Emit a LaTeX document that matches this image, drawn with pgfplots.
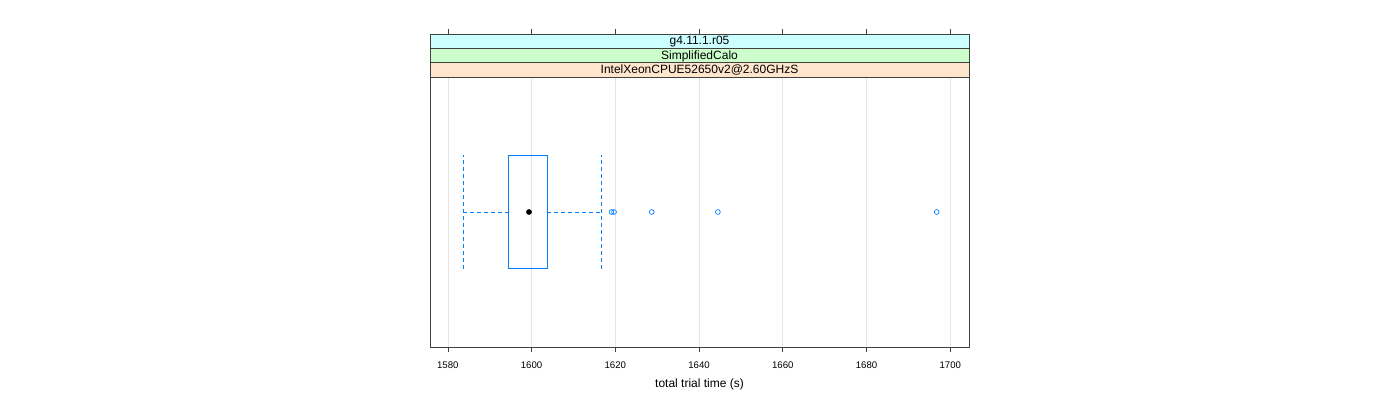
\documentclass[border=0pt]{standalone}
\usepackage{pgfplots}
\pgfplotsset{compat=1.18}
\usepackage{fontspec}
\setmainfont{Liberation Sans}
\definecolor{bwblue}{HTML}{0080FF}
\definecolor{stripcyan}{HTML}{CCFFFF}
\definecolor{stripgreen}{HTML}{CCFFCC}
\definecolor{strippeach}{HTML}{FFE5CC}
\begin{document}
\begin{tikzpicture}[x=1pt,y=1pt]
\useasboundingbox (0,0) rectangle (1400,400);
\begin{axis}[
  at={(430pt,53pt)}, anchor=south west,
  scale only axis, width=539pt, height=270pt,
  xmin=1575.75, xmax=1704.47, ymin=0, ymax=1,
  xtick={1580,1600,1620,1640,1660,1680,1700},
  ytick=\empty,
  xmajorgrids, grid style={color=black!10, line width=0.6pt},
  tick align=outside, major tick length=5pt,
  xtick pos=left,
  xticklabel style={font=\fontsize{9.6}{11}\selectfont, yshift=-6pt},
  axis line style={black!75, line width=0.6pt},
  tick style={black!75, line width=0.6pt},
  xlabel={total trial time (s)},
  xlabel style={font=\fontsize{12}{14}\selectfont, yshift=-4pt},
  /pgf/number format/assume math mode=true,
  /pgf/number format/set thousands separator={},
  clip=false,
]
\addplot[bwblue, line width=0.6pt] coordinates {(1594.45,0.29) (1603.77,0.29) (1603.77,0.71) (1594.45,0.71) (1594.45,0.29)};
\addplot[bwblue, line width=0.6pt, dash pattern=on 4pt off 3pt] coordinates {(1583.7,0.5) (1594.45,0.5)};
\addplot[bwblue, line width=0.6pt, dash pattern=on 4pt off 3pt] coordinates {(1603.77,0.5) (1616.75,0.5)};
\addplot[bwblue, line width=0.6pt, dash pattern=on 4pt off 3pt] coordinates {(1583.7,0.29) (1583.7,0.71)};
\addplot[bwblue, line width=0.6pt, dash pattern=on 4pt off 3pt] coordinates {(1616.75,0.29) (1616.75,0.71)};
\addplot[only marks, mark=*, mark size=2.6pt, black] coordinates {(1599.4,0.5)};
\addplot[only marks, mark=o, mark size=2.4pt, bwblue, mark options={line width=0.7pt}] coordinates {(1619.1,0.5) (1619.7,0.5) (1628.7,0.5) (1644.5,0.5) (1696.75,0.5)};
\end{axis}
\begin{axis}[
  at={(430pt,53pt)}, anchor=south west,
  scale only axis, width=539pt, height=313pt,
  xmin=1575.75, xmax=1704.47, ymin=0, ymax=1,
  xtick={1580,1600,1620,1640,1660,1680,1700},
  xticklabels={},
  ytick=\empty,
  xtick pos=right,
  tick align=outside, major tick length=5pt,
  axis line style={draw=none},
  tick style={black!75, line width=0.6pt},
]
\addplot[draw=none] coordinates {(1600,0.5)};
\end{axis}
\draw[black!75, line width=0.6pt, fill=strippeach] (430,323) rectangle (969,337.33);
\node[font=\fontsize{12}{14}\selectfont] at (699.5,329.8) {IntelXeonCPUE52650v2@2.60GHzS};
\draw[black!75, line width=0.6pt, fill=stripgreen] (430,337.33) rectangle (969,351.67);
\node[font=\fontsize{12}{14}\selectfont] at (699.5,344.1) {SimplifiedCalo};
\draw[black!75, line width=0.6pt, fill=stripcyan] (430,351.67) rectangle (969,366);
\node[font=\fontsize{12}{14}\selectfont] at (699.5,358.4) {g4.11.1.r05};
\end{tikzpicture}
\end{document}
